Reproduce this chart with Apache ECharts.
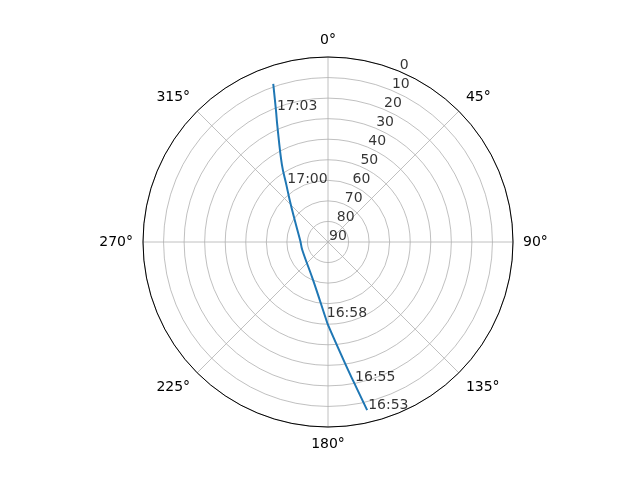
<!DOCTYPE html>
<html>
<head>
<meta charset="utf-8">
<script src="https://cdn.jsdelivr.net/npm/echarts@6/dist/echarts.min.js"></script>
<style>
  html, body { margin: 0; padding: 0; background: #fff; }
  #chart_pass { width: 640px; height: 480px; }
</style>
</head>
<body>
<div id="chart_pass"></div>
<script>
// pass track (elevation in degrees, azimuth in degrees)
const elevation = [6.0, 20.4, 27.0, 49.7, 52.9, 70.2, 76.9, 76.5, 70.5, 62.2, 55.5, 46.2, 27.8, 21.7, 8.6]
const azimuth = [166.9, 169.5, 171.1, 180, 181.7, 201.6, 253.3, 272.5, 303.7, 317.8, 324.0, 329.2, 336.6, 338.3, 340.9]

// time marks along the track
const timeLabels = ['16:53', '16:55', '16:58', '17:00', '17:03']
const timeElevation = [6.0, 20.4, 52.9, 55.5, 21.7]
const timeAzimuth = [166.9, 169.5, 181.7, 324.0, 338.3]

// radial tick labels, drawn along 22.5°
const radiusTicks = [0, 10, 20, 30, 40, 50, 60, 70, 80, 90]
const radiusLabelAngle = 22.5

const font = 'DejaVu Sans'

let chartPass = echarts.init(document.getElementById('chart_pass'))
chartPass.setOption({
  backgroundColor: '#fff',
  animation: false,
  polar: {
    center: [328, 242],
    radius: 185
  },
  angleAxis: {
    type: 'value',
    min: 0,
    max: 360,
    interval: 45,
    startAngle: 90,
    clockwise: true,
    axisLine: { lineStyle: { color: '#000', width: 1 } },
    axisTick: { show: false },
    axisLabel: {
      formatter: '{value}°',
      color: '#000',
      fontSize: 14,
      fontFamily: font,
      margin: 10
    },
    splitLine: { show: true, lineStyle: { color: '#b0b0b0', width: 0.8 } }
  },
  radiusAxis: {
    type: 'value',
    min: 0,
    max: 90,
    interval: 10,
    inverse: true,
    axisLine: { show: false },
    axisTick: { show: false },
    axisLabel: { show: false },
    splitLine: { show: true, lineStyle: { color: '#b0b0b0', width: 0.8 } }
  },
  series: [
    {
      type: 'line',
      coordinateSystem: 'polar',
      data: elevation.map((e, i) => [e, azimuth[i]]),
      showSymbol: false,
      smooth: 0.4,
      lineStyle: { color: '#1f77b4', width: 2 },
      z: 3
    },
    {
      type: 'scatter',
      coordinateSystem: 'polar',
      symbolSize: 0,
      silent: true,
      data: timeLabels.map((t, i) => ({ name: t, value: [timeElevation[i], timeAzimuth[i]] })),
      label: {
        show: true,
        formatter: '{b}',
        position: [0, 0],
        align: 'left',
        verticalAlign: 'bottom',
        offset: [1, 2],
        color: '#000',
        fontSize: 14,
        fontFamily: font
      },
      z: 4
    },
    {
      type: 'scatter',
      coordinateSystem: 'polar',
      symbolSize: 0,
      silent: true,
      data: radiusTicks.map(r => ({ name: String(r), value: [r, radiusLabelAngle] })),
      label: {
        show: true,
        formatter: '{b}',
        position: [0, 0],
        align: 'left',
        verticalAlign: 'bottom',
        offset: [1, 1],
        color: '#000',
        fontSize: 14,
        fontFamily: font
      },
      z: 4
    }
  ]
})

window.addEventListener('resize', () => {
  chartPass.resize()
})
</script>
</body>
</html>
